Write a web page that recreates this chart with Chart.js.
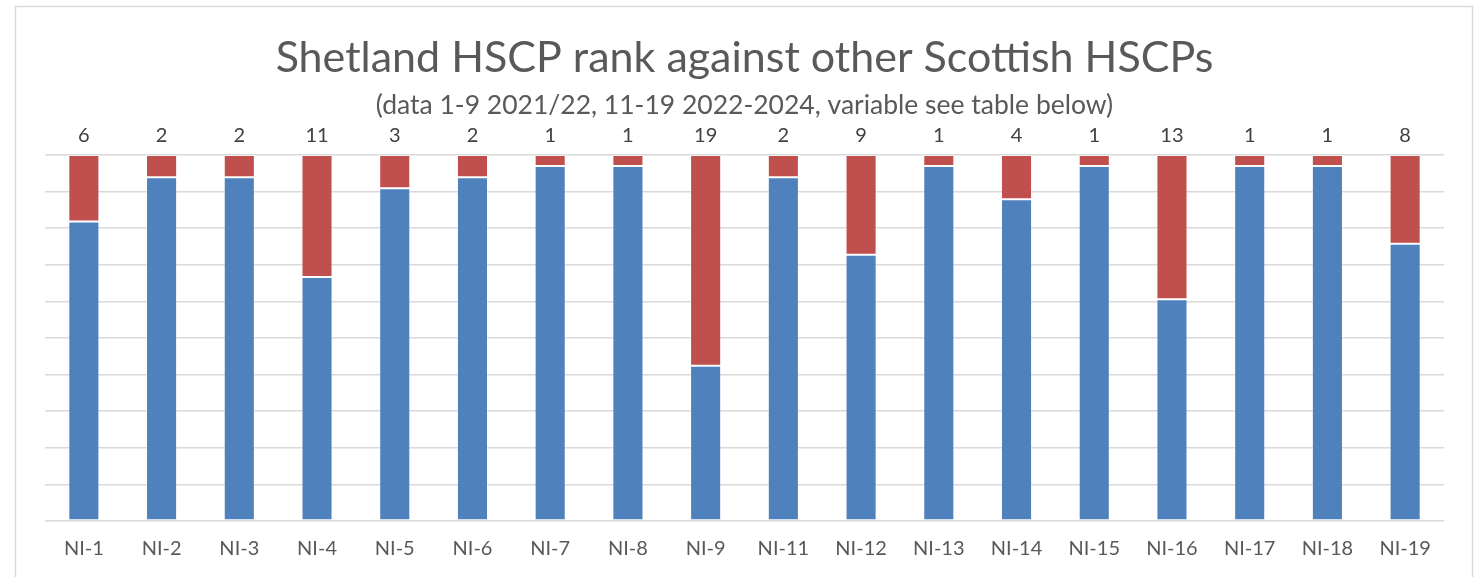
<!DOCTYPE html>
<html>
<head>
<meta charset="utf-8">
<script src="https://cdn.jsdelivr.net/npm/chart.js@4"></script>
<style>
html,body{margin:0;padding:0;background:#fff;}
#wrap{width:1479px;height:577px;position:relative;}
</style>
</head>
<body>
<div id="wrap"><canvas id="c" width="1479" height="577"></canvas></div>
<script>
const categories = ['NI-1','NI-2','NI-3','NI-4','NI-5','NI-6','NI-7','NI-8','NI-9','NI-11','NI-12','NI-13','NI-14','NI-15','NI-16','NI-17','NI-18','NI-19'];
const rankValues = [6,2,2,11,3,2,1,1,19,2,9,1,4,1,13,1,1,8];
const restValues = [27,31,31,22,30,31,32,32,14,31,24,32,29,32,20,32,32,25];
const axisMax = 33;

const FONT = 'Lato, "Open Sans", sans-serif';

const borderPlugin = {
  id: 'outerBorder',
  beforeDraw(chart) {
    const ctx = chart.ctx;
    ctx.save();
    ctx.fillStyle = '#ffffff';
    ctx.fillRect(0, 0, chart.width, chart.height);
    ctx.strokeStyle = '#D9D9D9';
    ctx.lineWidth = 1.5;
    ctx.strokeRect(15.5, 6.5, 1457, 620);
    ctx.restore();
  }
};

const labelPlugin = {
  id: 'topLabels',
  afterDatasetsDraw(chart) {
    const ctx = chart.ctx;
    const meta = chart.getDatasetMeta(1);
    ctx.save();
    ctx.font = '20px ' + FONT;
    ctx.fillStyle = '#404040';
    ctx.textAlign = 'center';
    ctx.textBaseline = 'middle';
    meta.data.forEach((bar, i) => {
      ctx.fillText(String(rankValues[i]), bar.x, bar.y - 19);
    });
    ctx.restore();
  }
};

new Chart(document.getElementById('c'), {
  type: 'bar',
  data: {
    labels: categories,
    datasets: [
      { label: 'Other', data: restValues, backgroundColor: '#4F81BD', borderColor: 'rgba(255,255,255,0.25)', borderWidth: 1, borderSkipped: false },
      { label: 'Rank', data: rankValues, backgroundColor: '#C0504D', borderColor: 'rgba(255,255,255,0.25)', borderWidth: 1, borderSkipped: false }
    ]
  },
  options: {
    responsive: false,
    animation: false,
    events: [],
    layout: { padding: { left: 45, right: 35, top: 10, bottom: 0 } },
    datasets: { bar: { categoryPercentage: 1, barPercentage: 0.4 } },
    plugins: {
      legend: { display: false },
      tooltip: { enabled: false },
      title: {
        display: true,
        text: 'Shetland HSCP rank against other Scottish HSCPs',
        color: '#595959',
        font: { family: FONT, size: 43, weight: 'normal' },
        padding: { top: 22, bottom: 0 }
      },
      subtitle: {
        display: true,
        text: '(data 1-9 2021/22, 11-19 2022-2024, variable see table below)',
        color: '#595959',
        font: { family: FONT, size: 26.5, weight: 'normal' },
        padding: { top: 5.5, bottom: 34.1 }
      }
    },
    scales: {
      x: {
        stacked: true,
        grid: { display: false, drawTicks: false },
        border: { display: false },
        ticks: { color: '#595959', font: { family: FONT, size: 20 }, padding: 16, maxRotation: 0, autoSkip: false }
      },
      y: {
        stacked: true,
        min: 0,
        max: axisMax,
        ticks: { display: false, stepSize: 3.3 },
        grid: { color: '#D9D9D9', lineWidth: 1.5, drawTicks: false },
        border: { display: false }
      }
    }
  },
  plugins: [borderPlugin, labelPlugin]
});
</script>
</body>
</html>
